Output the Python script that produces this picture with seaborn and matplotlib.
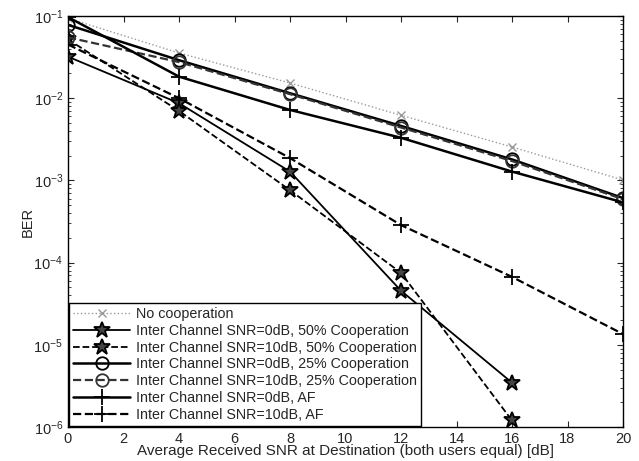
import numpy as np
import pandas as pd
import matplotlib
matplotlib.use("Agg")
import matplotlib.pyplot as plt
import seaborn as sns
from matplotlib.ticker import LogLocator, NullFormatter

snr = [0, 4, 8, 12, 16, 20]
snr16 = [0, 4, 8, 12, 16]

no_coop = [0.094, 0.0355, 0.0153, 0.0062, 0.00255, 0.00101]
sn0_50 = [0.032, 0.0087, 0.00128, 4.55e-5, 3.46e-6]
sn10_50 = [0.052, 0.0070, 0.00076, 7.5e-5, 1.2e-6]
sn0_25 = [0.078, 0.0290, 0.0115, 0.0046, 0.00180, 0.00061]
sn10_25 = [0.055, 0.0275, 0.0112, 0.0044, 0.00172, 0.00059]
sn0_af = [0.097, 0.0183, 0.0072, 0.0033, 0.00128, 0.00054]
sn10_af = [0.045, 0.0100, 0.00187, 2.86e-4, 6.7e-5, 1.35e-5]

labels = ["No cooperation",
          "Inter Channel SNR=0dB, 50% Cooperation",
          "Inter Channel SNR=10dB, 50% Cooperation",
          "Inter Channel SNR=0dB, 25% Cooperation",
          "Inter Channel SNR=10dB, 25% Cooperation",
          "Inter Channel SNR=0dB, AF",
          "Inter Channel SNR=10dB, AF"]

x_ticks = list(range(0, 21, 2))

sns.set_theme(style="ticks")
plt.rcParams['font.family'] = ['Liberation Sans', 'DejaVu Sans']
plt.rcParams['mathtext.fontset'] = 'custom'
plt.rcParams['mathtext.rm'] = 'Liberation Sans'
plt.rcParams['mathtext.it'] = 'Liberation Sans'
plt.rcParams['mathtext.bf'] = 'Liberation Sans:bold'
plt.rcParams['mathtext.default'] = 'regular'

fig = plt.figure(figsize=(6.39, 4.61), dpi=100)
ax = fig.add_axes([68/639, 1 - 427/461, (623 - 68)/639, (427 - 16)/461])

series = [
    (snr, no_coop, dict(color="#9a9a9a", linestyle=":", marker="x", markersize=6, linewidth=1.0, mew=1.0, mec="#9a9a9a")),
    (snr16, sn0_50, dict(color="black", linestyle="-", marker="*", markersize=12, linewidth=1.3, mfc="#444444", mec="black", mew=1.3)),
    (snr16, sn10_50, dict(color="black", linestyle="--", marker="*", markersize=12, linewidth=1.3, mfc="#444444", mec="black", mew=1.3)),
    (snr, sn0_25, dict(color="black", linestyle="-", marker="o", markersize=9, linewidth=1.8, mfc="none", mec="black", mew=1.3)),
    (snr, sn10_25, dict(color="#333333", linestyle="--", marker="o", markersize=9, linewidth=1.6, mfc="none", mec="#333333", mew=1.3)),
    (snr, sn0_af, dict(color="black", linestyle="-", marker="+", markersize=12, linewidth=1.8, mew=1.3, mec="black")),
    (snr, sn10_af, dict(color="black", linestyle="--", marker="+", markersize=12, linewidth=1.6, mew=1.3, mec="black")),
]

for (xs, ys, kw), lab in zip(series, labels):
    df = pd.DataFrame({"snr": xs, "ber": ys})
    sns.lineplot(data=df, x="snr", y="ber", ax=ax, label=lab, **kw)

ax.set_yscale("log")
ax.set_xlim(0, 20)
ax.set_ylim(1e-6, 1e-1)
ax.set_xticks(x_ticks)
ax.set_xticklabels([str(t) for t in x_ticks])
ax.yaxis.set_major_locator(LogLocator(base=10, numticks=10))
ax.yaxis.set_minor_locator(LogLocator(base=10, subs=np.arange(2, 10), numticks=20))
ax.yaxis.set_minor_formatter(NullFormatter())
ax.tick_params(axis="both", which="both", direction="in", top=True, right=True, labelsize=10.5)
ax.tick_params(axis="both", which="major", length=4, width=0.8)
ax.tick_params(axis="y", which="minor", length=2, width=0.6)
for s in ax.spines.values():
    s.set_linewidth(1.0)
    s.set_color("black")

ax.set_xlabel("Average Received SNR at Destination (both users equal) [dB]", fontsize=11, labelpad=-1)
ax.set_ylabel("BER", fontsize=10.5)
ax.yaxis.set_label_coords(-0.06, 0.5)

leg = ax.legend(loc="lower left", fontsize=10.3, frameon=True, fancybox=False,
                edgecolor="black", handlelength=4.0, borderaxespad=0.1,
                labelspacing=0.2, handletextpad=0.4, borderpad=0.25)
leg.get_frame().set_linewidth(1.0)
leg.get_frame().set_alpha(1)

fig.savefig("out.png", dpi=100)
